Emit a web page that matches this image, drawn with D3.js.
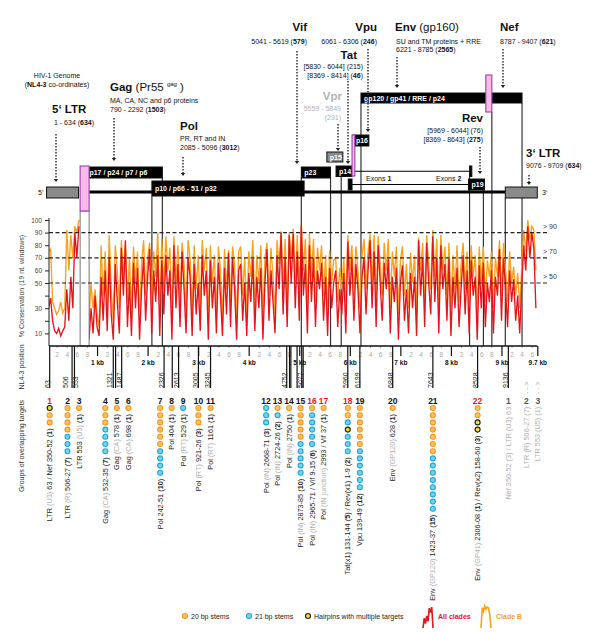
<!DOCTYPE html>
<html><head><meta charset="utf-8">
<script src="https://cdn.jsdelivr.net/npm/d3@7/dist/d3.min.js"></script>
<style>body{margin:0;background:#fff}text{white-space:pre}</style>
</head><body>
<svg id="chart" width="600" height="632"></svg>
<script>
// ---------------- DATA ----------------
const STEP = 40; // nt between samples of the conservation profile
const allClades = [35,30,38,20,12, 10,14,8,12,15, 45,20,55, 30,90,70,95, null,null,null,null,
 5,30,10,40,15, 8,55,20,60,12, 70,25,5,65,35, 10,78,40,84,15, 50,8,66,30,62,
 5,45,70,20,55, 77,10,60,35,72, 8,68,25,72,40, 60,5,80,30,65, 15,75,45,10,70,
 55,8,65,25,50, 12,72,40,60,5, 68,30,55,10,66, 40,8,62,25,74, 15,70,45,5,60,
 65,20,50,8,58, 35,69,12,55,30, 62,5,50,77,20, 60,35,10,72,45, 90,25,70,15,88,
 50,89,30,75,20, 96,40,65,10,80, 35,70,15,60,45, 66,20,55,8,62, 30,50,60,15,45,
 25,58,10,83,40, 70,20,65,45,10, 55,70,25,60,84, 30,75,15,80,50, 20,66,45,69,10,
 55,35,62,5,50, 64,20,45,10,58, 30,55,8,84,40, 70,15,82,50,25, 87,35,70,10,80,
 45,65,20,69,8, 55,30,62,15,45, 72,25,60,10,68, 40,55,5,64,30, 66,15,50,35,60,
 10,55,40,77,20, 70,45,15,60,35, 53,20,40,10,48, 80,60,95,70,90, 77,30];
const cladeB = [78,75,77,35,30, 25,28,35,26,30, 92,60,88, 70,95,90,100, null,null,null,null,
 20,50,30,45,25, 15,80,40,75,25, 88,45,20,80,60, 30,84,55,80,35, 70,25,79,50,75,
 20,65,84,40,70, 82,30,75,55,90, 25,85,45,87,60, 78,20,87,50,80, 35,82,65,25,84,
 70,22,80,45,72, 30,84,60,78,20, 80,50,72,25,79, 60,20,77,45,76, 35,79,65,18,75,
 79,40,70,22,75, 55,84,30,72,50, 80,20,70,82,40, 78,55,25,84,65, 91,45,85,30,90,
 70,93,50,88,40, 96,60,85,30,89, 55,85,35,78,60, 80,40,72,25,76, 50,68,70,35,62,
 45,70,30,88,60, 80,40,79,60,30, 72,85,45,75,89, 50,88,35,87,65, 40,82,60,85,30,
 75,55,79,25,68, 79,40,65,30,74, 50,72,25,86,60, 82,35,88,65,45, 92,55,85,30,88,
 60,79,40,82,30, 72,45,80,35,65, 82,45,75,30,80, 55,72,25,79,50, 79,35,68,55,75,
 30,70,55,84,40, 82,60,35,75,50, 63,40,58,30,62, 92,75,100,85,95, 92,60];

const yTicks = [10,20,30,40,50,60,70,80,90,100];
const yTickLabels = [100,90,80,70,60,50,30,10];
const thresholds = [90,70,50];
const kbTicks = [1000,2000,3000,4000,5000,6000,7000,8000,9000,9709];
const kbLabels = ["1 kb","2 kb","3 kb","4 kb","5 kb","6 kb","7 kb","8 kb","9 kb","9.7 kb"];
const positionLabels = [63,506,553,1321,1487,2326,2613,3005,3245,4752,5077,5960,6199,6848,7643,8528,9136];

const groupIds = ["1","2","3","4","5","6","7","8","9","10","11","12","13","14","15","16","17","18","19","20","21","22","1","2","3"];
const groupPos = [63,506,553,1321,1367,1487,2326,2488,2613,3005,3245,4752,4808,4834,4957,5049,5077,5960,6199,6848,7643,8528,9136,9581,9628];
const groupCircles = ["koo","oooobbb","o","ooobbbb","o","o","oooooobbbb","o","b","ooo","o","bbb","ob","o","ooooobbbbb","obbbbb","o","oobkbbb","oooooobbbbbb","o","ooooooobbbbbbbb","ookk","","",""];
const groupLabels = [
 "LTR {(U3)} 63 / Nef 350-52 (*1*)","LTR {(R)} 506-27 (*7*)","LTR 553 {(U5)} (*1*)",
 "Gag {(CA)} 532-35 (*7*)","Gag {(CA)} 578 (*1*)","Gag {(CA)} 698 (*1*)",
 "Pol 242-51 (*10*)","Pol 404 (*1*)","Pol {(RT)} 529 (*1*)","Pol {(RT)} 921-26 (*3*)","Pol {(RT)} 1161 (*1*)",
 "Pol {(IN)} 2668-71 (*3*)","Pol {(IN)} 2724-26 (*2*)","Pol {(IN)} 2750 (*1*)","Pol {(IN)} 2873-85 (*10*)",
 "Pol {(IN)} 2965-71 / Vif 9-15 (*6*)","Pol {(IN junction)} 2993 / Vif 37 (*1*)",
 "Tat(x1) 131-144 (*5*) / Rev(x1) 1-9 (*2*)","Vpu 139-49 (*12*)","Env {(GP120)} 628 (*1*)",
 "Env {(GP120)} 1423-37 (*15*)","Env {(GP41)} 2306-08 (*1*) / Rev(x2) 158-60 (*3*)",
 "Nef 350-52 (3) / LTR (U3) 63","LTR (R) 506-27 (7)","LTR 553 (U5) (1)"];
const groupRed = ["1a","16","17","18","22"];
const ghostGroups = [22,23,24];

// genome map (nt coordinates)
const geneBoxes = [
 {label:"", start:1, end:634, row:"ltr", fill:"#8a8a8a"},
 {label:"", start:9076, end:9709, row:"ltr", fill:"#8a8a8a"},
 {label:"p17 / p24 / p7 / p6", start:790, end:2292, row:"gag"},
 {label:"p10 / p66 - 51 / p32", start:2085, end:5096, row:"pol"},
 {label:"p23", start:5041, end:5619, row:"vif"},
 {label:"p15", start:5559, end:5849, row:"vpr", fill:"#8a8a8a", align:"mid"},
 {label:"p14", start:5830, end:6044, row:"tat", align:"end"},
 {label:"p16", start:6061, end:6306, row:"vpu", align:"start"},
 {label:"gp120 / gp41 / RRE / p24", start:6221, end:9407, row:"env"},
 {label:"", start:5969, end:6044, row:"rev"},
 {label:"p19", start:8369, end:8643, row:"rev", align:"mid"},
 {label:"", start:8369, end:8414, row:"tat"}
];
const pinkRegions = [{start:665,end:843,row:"pk1"},{start:6044,end:6100,row:"pk2"},{start:8690,end:8810,row:"pk3"}];
const geneLines = [{pos:2085,from:"pol"},{pos:2292,from:"gag"},{pos:5041,from:"vif"},{pos:5619,from:"vif"},
 {pos:5830,from:"tat"},{pos:6221,from:"env"},{pos:8369,from:"tat"},{pos:8643,from:"rev"},
 {pos:8810,from:"pk3"},{pos:9076,from:"ltr"},{pos:9407,from:"env"}];

// ---------------- LAYOUT ----------------
const rowY = {env:[93,10], vpu:[135,11], vpr:[152,10], gag:[167,11], vif:[167,11], tat:[166,10.5],
 pol:[181,15], rev:[179,11], ltr:[187,11], pk1:[166,45], pk2:[135,41], pk3:[75,37]};

const svg = d3.select("#chart").attr("font-family",'"Liberation Sans", Arial, Helvetica, sans-serif');
const x = d3.scaleLinear().domain([0, 9709]).range([46.5, 537.3]);
const y = d3.scaleLinear().domain([0, 100]).range([346, 220]);

function addRich(sel, str, grayCol) {
  str.split(/(\{[^}]*\}|\*[^*]*\*)/).filter(s => s.length).forEach(p => {
    const t = sel.append("tspan");
    if (p[0] === "{") t.attr("fill", grayCol).text(p.slice(1, -1));
    else if (p[0] === "*") t.attr("font-weight", "bold").text(p.slice(1, -1));
    else t.text(p);
  });
}
function spread(xs, gap) {
  const stack = [];
  xs.forEach(v => {
    stack.push({n: 1, sum: v, pos: v});
    while (stack.length > 1) {
      const b = stack[stack.length - 1], a = stack[stack.length - 2];
      if (b.pos < a.pos + a.n * gap) {
        const n = a.n + b.n, sum = a.sum + b.sum;
        stack.splice(-2, 2, {n, sum, pos: sum / n - (n - 1) * gap / 2});
      } else break;
    }
  });
  const out = [];
  stack.forEach(c => { for (let k = 0; k < c.n; k++) out.push(c.pos + k * gap); });
  return out;
}

// ---------- gene vertical lines (behind) ----------
svg.append("g").selectAll("line").data(geneLines).join("line")
  .attr("x1", d => x(d.pos)).attr("x2", d => x(d.pos))
  .attr("y1", d => rowY[d.from][0] + rowY[d.from][1]).attr("y2", y(0))
  .attr("stroke", "#333").attr("stroke-width", 1.2);

// ---------- conservation plot ----------
svg.append("clipPath").attr("id","plotclip").append("rect")
  .attr("x", 49).attr("y", y(100) - 4).attr("width", x(9709) - 49).attr("height", y(0) - y(100) + 4);
const plot = svg.append("g").attr("clip-path","url(#plotclip)");
const line = d3.line().defined(d => d.v != null).x(d => x(d.p)).y(d => y(d.v));
[{values: cladeB, color:"#f7a21b"}, {values: allClades, color:"#e3161b"}].forEach(s => {
  const pts = s.values.map((v, i) => ({p: 1 + i * STEP, v}));
  plot.append("path").datum(pts).attr("d", line).attr("fill","none")
    .attr("stroke", s.color).attr("stroke-width", 1.35).attr("stroke-linejoin","miter");
});

// white column under 5' pink marker
svg.append("rect").attr("x", x(665)).attr("width", x(843) - x(665))
  .attr("y", rowY.pk1[0] + rowY.pk1[1]).attr("height", y(0) - rowY.pk1[0] - rowY.pk1[1])
  .attr("fill","#fff").attr("stroke","#666").attr("stroke-width",0.9);

// thresholds
const th = svg.append("g");
th.selectAll("line").data(thresholds).join("line")
  .attr("x1", 49).attr("x2", 548).attr("y1", d => y(d)).attr("y2", d => y(d))
  .attr("stroke","#222").attr("stroke-width",1.2).attr("stroke-dasharray","4,2.5");
th.selectAll("text").data(thresholds).join("text")
  .attr("x", 543).attr("y", d => y(d) - 4).attr("font-size", 7).attr("fill","#333")
  .text(d => "> " + d);

// y axis
const yAxis = svg.append("g").attr("transform","translate(49,0)")
  .call(d3.axisLeft(y).tickValues(yTicks).tickSize(4).tickSizeOuter(0)
    .tickFormat(d => yTickLabels.includes(d) ? d : ""));
yAxis.select(".domain").attr("d", `M0,${y(100)-2}V${y(0)}`).attr("stroke","#222");
yAxis.selectAll("text").attr("font-size", 6.5).attr("fill","#444").attr("font-family", null);
yAxis.selectAll(".tick line").attr("stroke","#222");
svg.append("text").attr("transform", `translate(24,${(y(0)+y(100))/2 + 3}) rotate(-90)`)
  .attr("text-anchor","middle").attr("font-size",7).attr("fill","#444")
  .text("% Conservation (19 nt. windows)");

// x axis: minor then major
const minorTicks = d3.range(200, 9701, 200).filter(d => d % 1000 !== 0);
const xMinor = svg.append("g").attr("transform",`translate(0,${y(0)})`)
  .call(d3.axisBottom(x).tickValues(minorTicks).tickSize(2).tickPadding(4).tickFormat(d => (d % 1000) / 100));
xMinor.select(".domain").remove();
xMinor.selectAll("text").attr("font-size",6.5).attr("fill","#aaa").attr("font-family", null);
xMinor.selectAll(".tick line").attr("stroke","#aaa");
const xMajor = svg.append("g").attr("transform",`translate(0,${y(0)})`)
  .call(d3.axisBottom(x).tickValues(kbTicks).tickSize(10).tickSizeOuter(0).tickPadding(4)
    .tickFormat((d, i) => kbLabels[i]));
xMajor.select(".domain").attr("d", `M49,0H${x(9709)}`).attr("stroke","#111").attr("stroke-width",1.3);
xMajor.selectAll("text").attr("font-size",6.5).attr("font-weight","bold").attr("fill","#111").attr("font-family", null);
xMajor.selectAll(".tick line").attr("stroke","#111").attr("stroke-width",1.2);

// position lines & labels
const linePositions = Array.from(new Set(groupPos.filter((d, i) => !ghostGroups.includes(i)).concat(positionLabels)));
svg.append("g").selectAll("line").data(linePositions).join("line")
  .attr("x1", d => x(d)).attr("x2", d => x(d)).attr("y1", y(0)).attr("y2", 388)
  .attr("stroke","#111").attr("stroke-width",1.2);
const plx = spread(positionLabels.map(d => x(d) - 2.5), 10);
svg.append("g").selectAll("text").data(positionLabels).join("text")
  .attr("transform", (d, i) => `translate(${plx[i]},388) rotate(-90)`)
  .attr("dy","0.35em").attr("font-size",7).attr("fill","#222").text(d => d);
svg.append("text").attr("transform","translate(24,367) rotate(-90)").attr("text-anchor","middle")
  .attr("font-size",7).attr("fill","#333").text("NL4-3 position");

// ---------- groups ----------
const gx = spread(groupPos.map(d => x(d)), 11.5);
const stackY = d3.scaleLinear().domain([0, 1]).range([408, 415.2]);
const circleStyle = {o:["#fcc15d","#f4961e"], b:["#74d2f0","#1ea6d6"], k:["#f3d93a","#1a1a1a"]};

const groups = groupIds.map((id, i) => ({id, i, x: gx[i], circles: groupCircles[i].split(""),
  label: groupLabels[i], ghost: ghostGroups.includes(i),
  red: (i === 0) || (i > 0 && i < 22 && groupRed.includes(id))}));
const gg = svg.append("g").selectAll("g").data(groups).join("g");
gg.append("text").attr("x", d => d.x).attr("y", 404).attr("text-anchor","middle")
  .attr("font-size", 8.5).attr("font-weight","bold")
  .attr("fill", d => d.red ? "#e8141c" : d.ghost ? "#555" : "#111").text(d => d.id);
gg.each(function(d) {
  const g = d3.select(this);
  g.selectAll("circle").data(d.circles).join("circle")
    .attr("cx", d.x).attr("cy", (c, k) => stackY(k)).attr("r", 2.5)
    .attr("fill", c => circleStyle[c][0]).attr("stroke", c => circleStyle[c][1]).attr("stroke-width", 1.1);
  const top = stackY(d.circles.length - 1) + 6;
  const t = g.append("text").attr("transform", `translate(${d.x},${top}) rotate(-90)`)
    .attr("text-anchor","end").attr("dy","0.35em").attr("font-size",7.3)
    .attr("fill", d.ghost ? "#b0b0b0" : "#222");
  addRich(t, d.label, "#b0b0b0");
  if (d.ghost && d.i > 22) {
    g.append("text").attr("transform", `translate(${d.x},394) rotate(-90)`)
      .attr("dy","0.35em").attr("font-size",7).attr("fill","#aaa").text("- - >");
  }
});
svg.append("text").attr("transform","translate(24,446) rotate(-90)").attr("text-anchor","middle")
  .attr("font-size",7).attr("fill","#333").text("Groups of overlapping targets");

// ---------- genome map ----------
const gm = svg.append("g");
gm.append("line").attr("x1", x(843)).attr("x2", x(9076)).attr("y1", 192).attr("y2", 192)
  .attr("stroke","#000").attr("stroke-width",3.2);
gm.append("line").attr("x1", x(6044)).attr("x2", x(8369)).attr("y1", 171.2).attr("y2", 171.2)
  .attr("stroke","#000").attr("stroke-width",1.1);
gm.append("line").attr("x1", x(6044)).attr("x2", x(8369)).attr("y1", 184.5).attr("y2", 184.5)
  .attr("stroke","#000").attr("stroke-width",1.1);
function boxExtent(d) {
  let a = x(d.start), b = x(d.end);
  const minW = d.label ? 16 : 0;
  if (b - a < minW) {
    if (d.align === "end") a = b - minW;
    else if (d.align === "start") b = a + minW;
    else { const c = (a + b) / 2; a = c - minW / 2; b = c + minW / 2; }
  }
  return [a, b];
}
const boxes = gm.selectAll("g.box").data(geneBoxes).join("g").attr("class","box");
boxes.append("rect").attr("x", d => boxExtent(d)[0]).attr("width", d => boxExtent(d)[1] - boxExtent(d)[0])
  .attr("y", d => rowY[d.row][0]).attr("height", d => rowY[d.row][1])
  .attr("fill", d => d.fill || "#000").attr("stroke", "#111").attr("stroke-width", 1);
boxes.append("text").attr("x", d => boxExtent(d)[0] + 3).attr("y", d => rowY[d.row][0] + rowY[d.row][1] / 2)
  .attr("dy","0.36em").attr("font-size",7).attr("font-weight","bold").attr("fill","#fff").text(d => d.label);
gm.selectAll("rect.pink").data(pinkRegions).join("rect").attr("class","pink")
  .attr("x", d => x(d.start)).attr("width", d => x(d.end) - x(d.start))
  .attr("y", d => rowY[d.row][0]).attr("height", d => rowY[d.row][1])
  .attr("fill","#f8b9e6").attr("stroke","#9c3fb0").attr("stroke-width",1.1);

// annotations (layout positions)
const annotations = [
 {t:"HIV-1 Genome", x:57, y:78, a:"middle", s:7},
 {t:"(*NL4-3* co-ordinates)", x:57, y:87, a:"middle", s:7},
 {t:"*5‘ LTR*", x:52, y:113, s:11.5},
 {t:"1 - 634 (*634*)", x:54, y:125, s:7},
 {t:"MA, CA, NC and p6 proteins", x:110, y:103, s:7},
 {t:"790 - 2292 (*1503*)", x:110, y:111.5, s:7},
 {t:"*Pol*", x:180, y:130, s:11.5},
 {t:"PR, RT and IN", x:180, y:141, s:7},
 {t:"2085 - 5096 (*3012*)", x:180, y:150, s:7},
 {t:"*Vif*", x:307, y:31, a:"end", s:11.5},
 {t:"5041 - 5619 (*579*)", x:307, y:44, a:"end", s:7},
 {t:"*Vpu*", x:377, y:31, a:"end", s:11.5},
 {t:"6061 - 6306 (*246*)", x:377, y:44, a:"end", s:7},
 {t:"*Tat*", x:357, y:59, a:"end", s:11.5},
 {t:"[5830 - 6044] (215)", x:363, y:69, a:"end", s:7},
 {t:"[8369 - 8414] (*46*)", x:363, y:77.5, a:"end", s:7},
 {t:"*Vpr*", x:342, y:100, a:"end", s:11.5, c:"#b3b3b3"},
 {t:"5559 - 5849", x:341, y:111, a:"end", s:7, c:"#b3b3b3"},
 {t:"(291)", x:341, y:119.5, a:"end", s:7, c:"#b3b3b3"},
 {t:"*Env* (gp160)", x:395, y:31, s:11.5},
 {t:"SU and TM proteins + RRE", x:396, y:44, s:7},
 {t:"6221 - 8785 (*2565*)", x:396, y:52, s:7},
 {t:"*Nef*", x:500, y:31, s:11.5},
 {t:"8787 - 9407 (*621*)", x:500, y:44, s:7},
 {t:"*Rev*", x:483, y:122, a:"end", s:11.5},
 {t:"[5969 - 6044] (76)", x:483, y:133, a:"end", s:7},
 {t:"[8369 - 8643] (*275*)", x:483, y:141.5, a:"end", s:7},
 {t:"*3‘ LTR*", x:526, y:157, s:11.5},
 {t:"9076 - 9709 (*634*)", x:526, y:168, s:7},
 {t:"5‘", x:38, y:195, s:7},
 {t:"3‘", x:542, y:195, s:7},
 {t:"Exons *1*", x:366, y:180.5, s:7},
 {t:"Exons *2*", x:436, y:180.5, s:7}
];
annotations.forEach(d => {
  const t = gm.append("text").attr("x", d.x).attr("y", d.y).attr("text-anchor", d.a || "start")
    .attr("font-size", d.s).attr("fill", d.c || "#111");
  addRich(t, d.t, "#b3b3b3");
});
// Gag title with superscript
const gt = gm.append("text").attr("x",110).attr("y",91).attr("font-size",11.5).attr("fill","#111");
gt.append("tspan").attr("font-weight","bold").text("Gag");
gt.append("tspan").text(" (Pr55 ");
gt.append("tspan").attr("font-size",6).attr("dy",-5).text("gag");
gt.append("tspan").attr("dy",5).text(" )");

// dotted arrows
const arrows = [{x:56,y1:134,y2:182},{x:114,y1:118,y2:161},{x:183,y1:157,y2:176},{x:297,y1:51,y2:164},
 {x:338,y1:124,y2:151},{x:348,y1:81,y2:164},{x:368,y1:49,y2:132},{x:397,y1:57,y2:88},
 {x:503,y1:49,y2:88},{x:480,y1:147,y2:174},{x:529,y1:175,y2:185}];
const ar = gm.selectAll("g.arrow").data(arrows).join("g").attr("class","arrow");
ar.append("line").attr("x1", d => d.x).attr("x2", d => d.x).attr("y1", d => d.y1).attr("y2", d => d.y2 - 2)
  .attr("stroke","#222").attr("stroke-width",1.4).attr("stroke-dasharray","1.4,1.6");
ar.append("path").attr("d", d => `M${d.x-2.2},${d.y2-3}L${d.x},${d.y2}L${d.x+2.2},${d.y2-3}Z`).attr("fill","#222");

// ---------- legend ----------
const legendItems = [{c:"o", text:"20 bp stems", x:185}, {c:"b", text:"21 bp stems", x:249}, {c:"k", text:"Hairpins with multiple targets", x:308}];
const lg = svg.append("g");
lg.selectAll("circle").data(legendItems).join("circle").attr("cx", d => d.x).attr("cy", 616).attr("r", 2.5)
  .attr("fill", d => circleStyle[d.c][0]).attr("stroke", d => circleStyle[d.c][1]).attr("stroke-width",1.1);
lg.selectAll("text").data(legendItems).join("text").attr("x", d => d.x + 6).attr("y", 618.5)
  .attr("font-size",7).attr("fill","#222").text(d => d.text);
[{vals:[0].concat(allClades.slice(10,17), [0]), color:"#e3161b", x0:423, label:"All clades"},
 {vals:[0].concat(cladeB.slice(236,243), [0]), color:"#f7a21b", x0:481, label:"Clade B"}].forEach(s => {
  const xi = d3.scaleLinear().domain([0, s.vals.length - 1]).range([s.x0, s.x0 + 10]);
  const yi = d3.scaleLinear().domain([0, 100]).range([628, 606]);
  lg.append("path").attr("d", d3.line().x((v, i) => xi(i)).y(v => yi(v))(s.vals))
    .attr("fill","none").attr("stroke", s.color).attr("stroke-width",1.6);
  lg.append("text").attr("x", s.x0 + 15).attr("y", 618.5).attr("font-size",7).attr("font-weight","bold")
    .attr("fill", s.color).text(s.label);
});
</script>
</body></html>
